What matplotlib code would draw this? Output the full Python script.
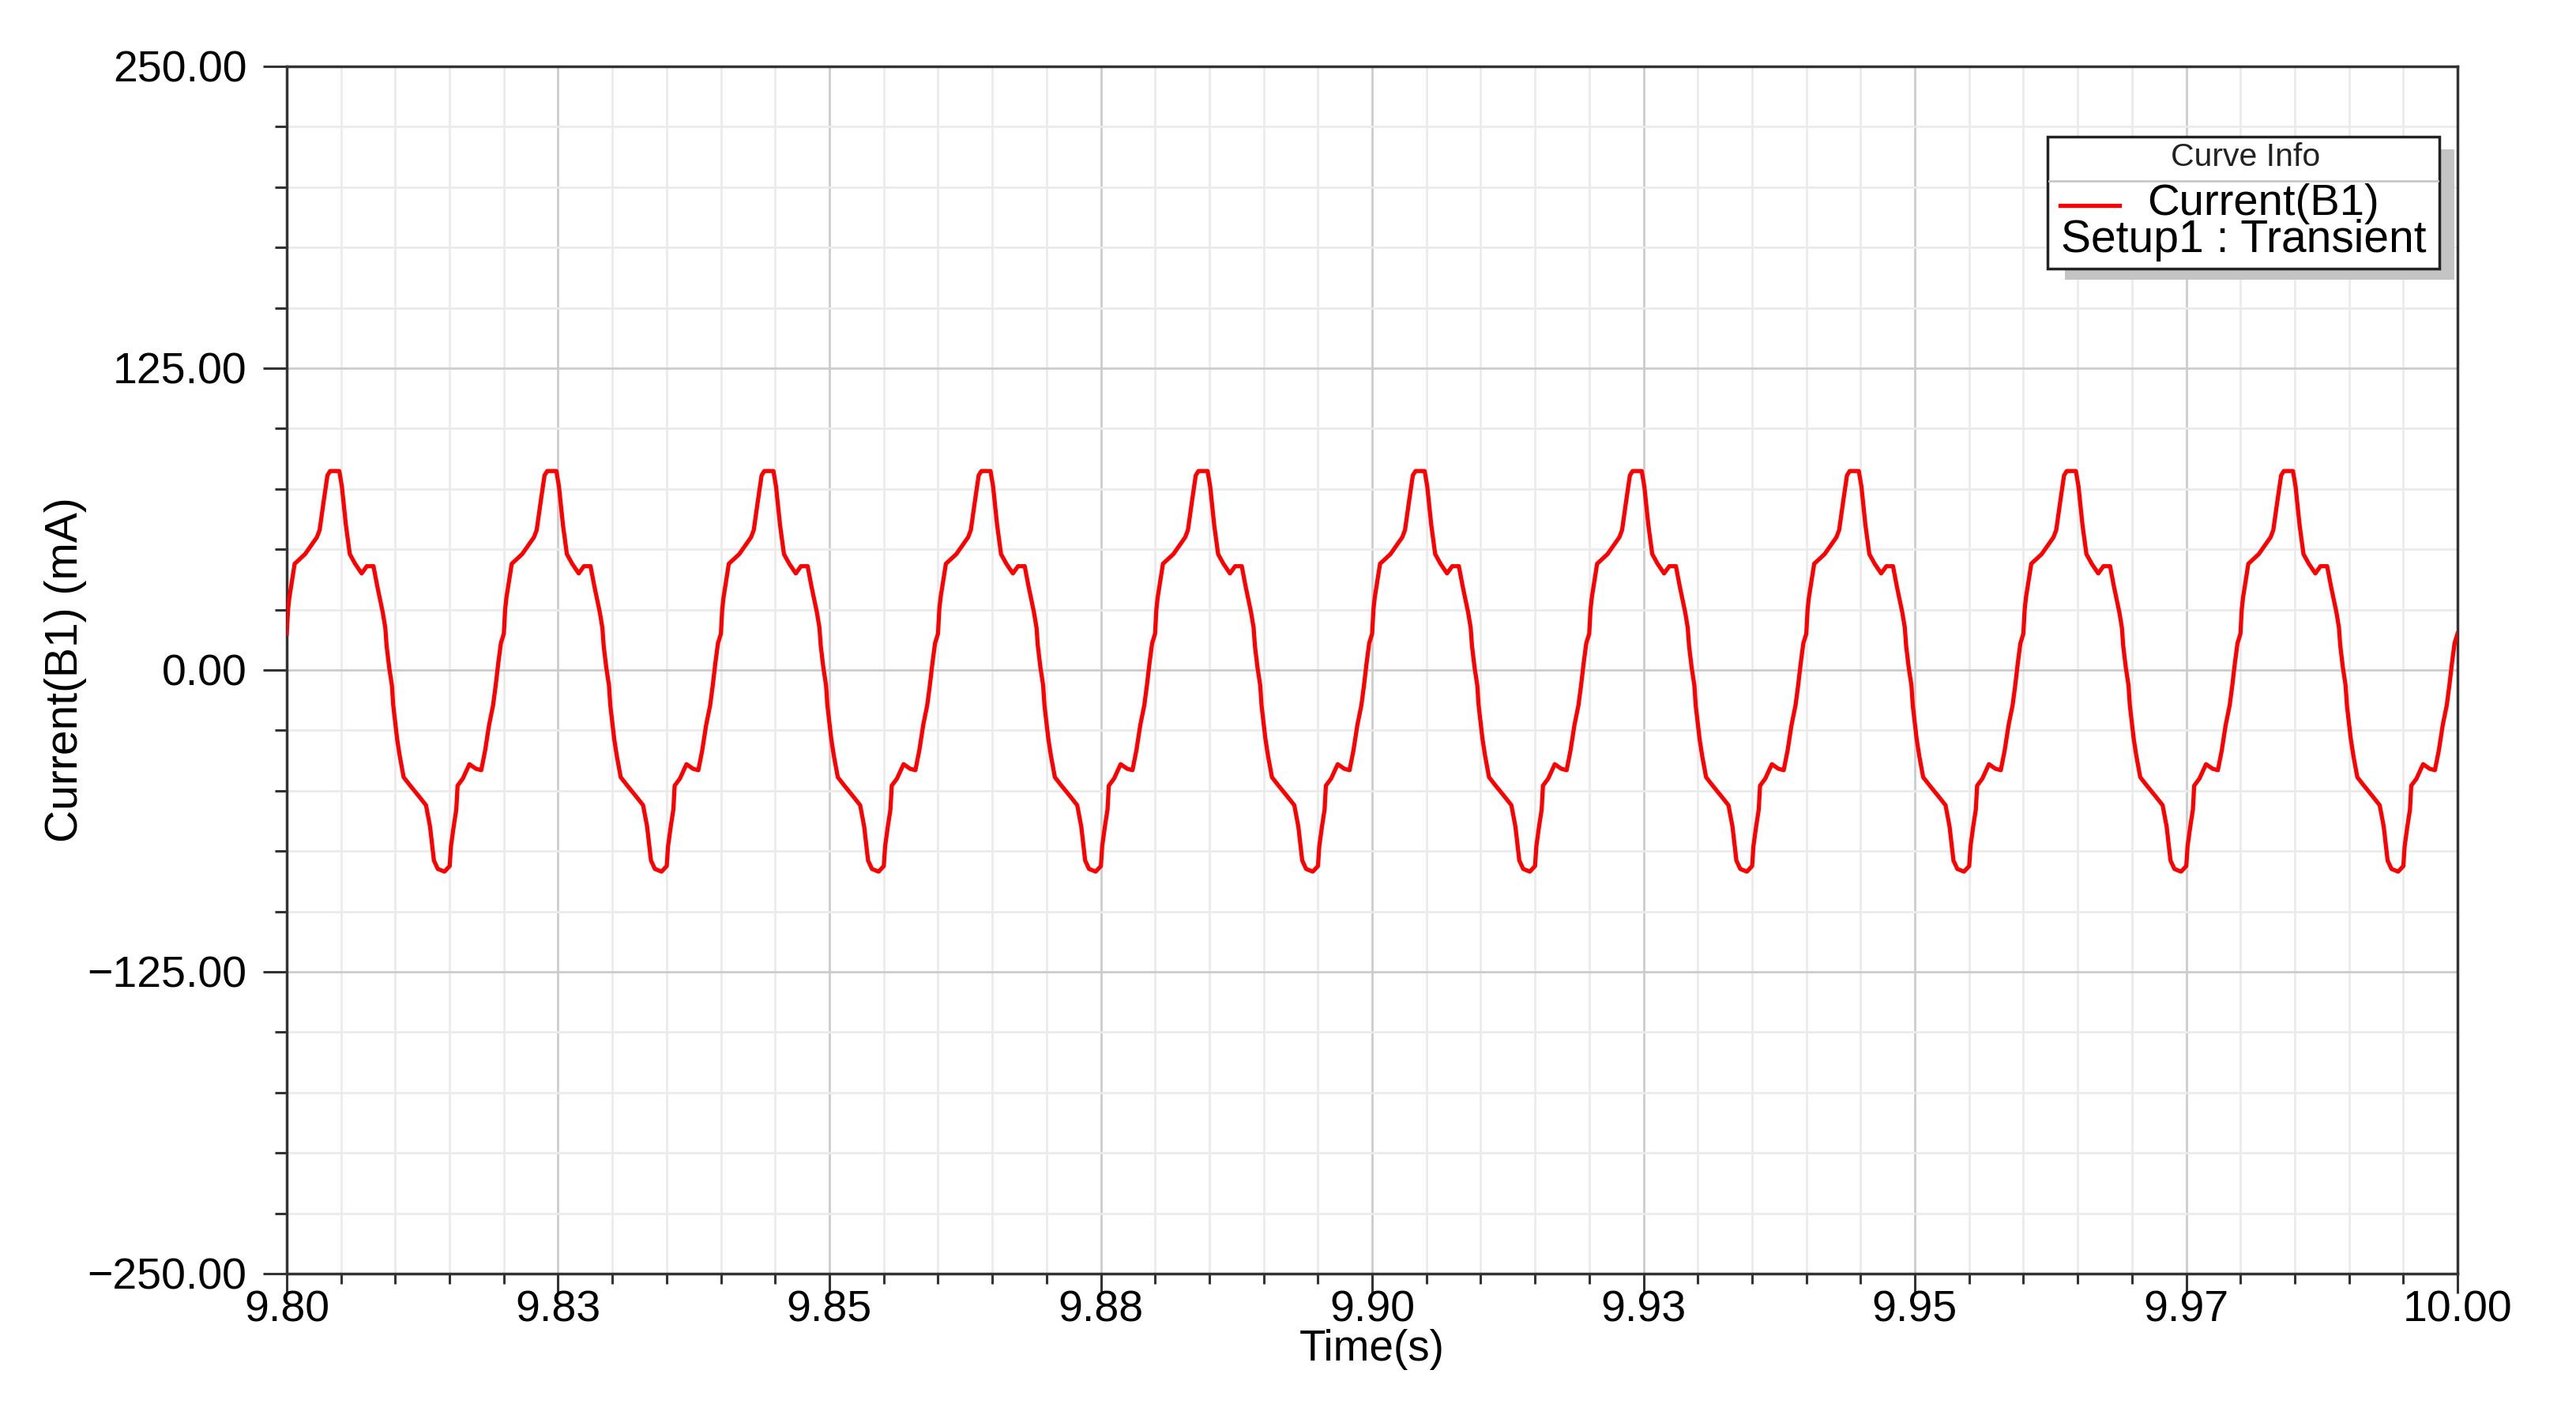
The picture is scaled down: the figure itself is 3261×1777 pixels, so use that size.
import numpy as np
import matplotlib.pyplot as plt
from matplotlib.patches import Rectangle
from matplotlib.lines import Line2D
from matplotlib.ticker import MultipleLocator, FuncFormatter

plt.rcParams['font.family'] = ['Liberation Sans', 'DejaVu Sans']

# one period of the current waveform, offset in ms / value in mA
period_ms = [0.00, 0.12, 0.24, 0.73, 1.69, 2.78, 3.03, 3.39, 3.75, 4.00, 4.84, 5.08,
             5.45, 5.81, 6.30, 6.90, 7.38, 7.99, 8.35, 8.84, 9.08, 9.20, 9.44, 9.69,
             9.81, 10.17, 10.41, 10.77, 11.38, 12.23, 12.83, 13.20, 13.56, 13.92, 14.53,
             15.01, 15.13, 15.38, 15.62, 15.74, 16.22, 16.83, 17.43, 17.92, 18.28, 18.64,
             19.01, 19.25, 19.49, 19.73]
period_mA = [15, 25, 30, 44, 48, 55, 58, 69.5, 80.6, 82.4, 82.4, 76,
             60, 48, 44, 40, 43, 43, 34.5, 24, 17.5, 10, 1, -6.4,
             -14.6, -28.6, -35.6, -44.4, -47.9, -52.6, -56, -64.8, -78.9, -82.4, -83.5,
             -81.2, -73, -64.8, -57.8, -47.9, -45, -39, -40.9, -41.5, -33.3, -22.8,
             -14.6, -6.4, 2.9, 11.1]
t_start = 9.80
period_s = 0.02
n_periods = 10

x_ticks = [9.800, 9.825, 9.850, 9.875, 9.900, 9.925, 9.950, 9.975, 10.000]
x_tick_labels = ['9.80', '9.83', '9.85', '9.88', '9.90', '9.93', '9.95', '9.97', '10.00']
y_ticks = [-250, -125, 0, 125, 250]

t = np.concatenate([t_start + k * period_s + np.array(period_ms) / 1000.0 for k in range(n_periods)]
                   + [[t_start + n_periods * period_s]])
cur = np.concatenate([period_mA] * n_periods + [[period_mA[0]]])

W, H = 3261, 1777
fig = plt.figure(figsize=(W / 100, H / 100), dpi=100)
ax = fig.add_axes([363 / W, 1 - 1612 / H, (3111 - 363) / W, (1612 - 84) / H])

ax.plot(t, cur, color='#ff0000', lw=3.8, zorder=3)

ax.set_xlim(9.80, 10.00)
ax.set_ylim(-250, 250)
ax.set_xticks(x_ticks)
ax.set_xticklabels(x_tick_labels)
ax.xaxis.set_minor_locator(MultipleLocator(0.005))
ax.set_yticks(y_ticks)
ax.yaxis.set_major_formatter(FuncFormatter(lambda v, p: f'{v:.2f}'.replace('-', '\u2212')))
ax.yaxis.set_minor_locator(MultipleLocator(25))

ax.grid(which='major', color='#cccccc', lw=2.0)
ax.grid(which='minor', color='#ebebeb', lw=2.0)
ax.set_axisbelow(True)

for s in ax.spines.values():
    s.set_color('#333333'); s.set_linewidth(2.5)
ax.tick_params(axis='x', which='major', length=18, width=2.2, color='#333333', pad=-3, labelsize=40)
ax.tick_params(axis='x', which='minor', length=9.5, width=2.2, color='#333333')
ax.tick_params(axis='y', which='major', length=21.5, width=2.2, color='#333333', pad=15, labelsize=40)
ax.tick_params(axis='y', which='minor', length=11, width=2.2, color='#333333')

ax.set_xlabel('Time(s)', fontsize=39.5)
ax.xaxis.set_label_coords(0.5, -0.046)
ax.set_ylabel('Current(B1) (mA)', fontsize=41)
ax.yaxis.set_label_coords(-0.092, 0.5)

# "Curve Info" box drawn in figure pixels
def fx(x): return x / W
def fy(y): return 1 - y / H

fig.add_artist(Rectangle((fx(2614), fy(354)), fx(3107) - fx(2614), fy(189) - fy(354),
                         transform=fig.transFigure, facecolor='#c4c4c4', edgecolor='none', zorder=5))
fig.add_artist(Rectangle((fx(2592), fy(340)), fx(3088) - fx(2592), fy(173) - fy(340),
                         transform=fig.transFigure, facecolor='white', edgecolor='#222222', lw=2.5, zorder=6))
fig.add_artist(Line2D([fx(2594), fx(3086)], [fy(229), fy(229)], transform=fig.transFigure,
                      color='#c8c8c8', lw=2, zorder=7))
fig.add_artist(Line2D([fx(2608), fx(2683)], [fy(260), fy(260)], transform=fig.transFigure,
                      color='#ff0000', lw=3.8, zorder=7))
fig.text(fx(2843), fy(199), 'Curve Info', fontsize=29.5, ha='center', va='center', color='#222222', zorder=7)
fig.text(fx(2718), fy(258), 'Current(B1)', fontsize=40.5, ha='left', va='center', zorder=7)
fig.text(fx(2609), fy(304), 'Setup1 : Transient', fontsize=41, ha='left', va='center', zorder=7)

fig.savefig('out.png', dpi=100)
